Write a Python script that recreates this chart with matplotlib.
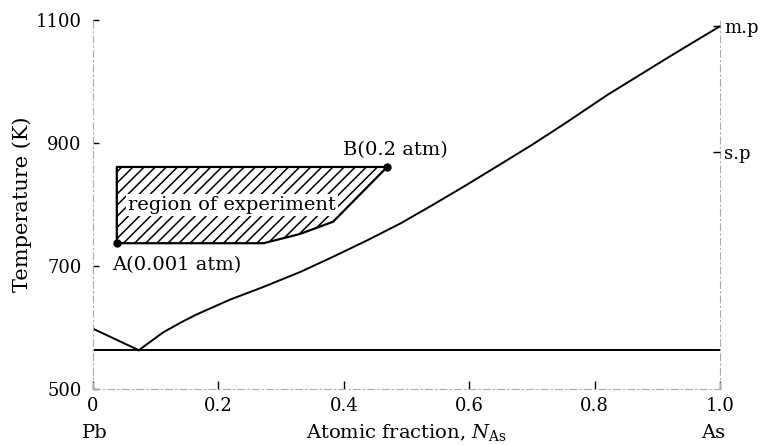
import matplotlib
matplotlib.use("Agg")
import matplotlib.pyplot as plt

# Pb-As phase diagram data
pb_liq_x = [0.0, 0.073]
pb_liq_T = [598, 563]
as_liq_x = [0.073, 0.112, 0.14, 0.165, 0.218, 0.272, 0.33, 0.383, 0.436,
            0.49, 0.543, 0.596, 0.649, 0.70, 0.75, 0.82, 0.925, 1.0]
as_liq_T = [563, 592, 608, 621, 645, 666, 690, 715, 741,
            769, 800, 832, 865, 897, 930, 978, 1044, 1090]
eutectic_x = [0.0, 1.0]
eutectic_T = [563, 563]

# experimental region
region_x = [0.038, 0.038, 0.469, 0.383, 0.33, 0.272, 0.038]
region_T = [737, 861, 861, 772, 752, 737, 737]
point_A = (0.038, 737)
point_B = (0.469, 861)

x_ticks = [0, 0.2, 0.4, 0.6, 0.8, 1.0]
x_tick_labels = ['0', '0.2', '0.4', '0.6', '0.8', '1.0']
y_ticks = [500, 700, 900, 1100]
right_ticks = [1090, 886]
right_labels = ['m.p', 's.p']

plt.rcParams['font.family'] = 'DejaVu Serif'
plt.rcParams['mathtext.fontset'] = 'dejavuserif'
plt.rcParams['hatch.linewidth'] = 1.1

fig = plt.figure(figsize=(7.62, 4.45), dpi=100)
ax = fig.add_axes([0.122, 0.126, 0.823, 0.829])
ax.set_xlim(0, 1.0)
ax.set_ylim(500, 1100)

# curves
ax.plot(pb_liq_x, pb_liq_T, color='black', lw=1.4)
ax.plot(as_liq_x, as_liq_T, color='black', lw=1.4)
ax.plot(eutectic_x, eutectic_T, color='black', lw=1.4)

# hatched region
ax.fill(region_x, region_T, facecolor='white', edgecolor='black',
        hatch='///', lw=0)
ax.plot(region_x, region_T, color='black', lw=1.6)
ax.plot(*point_A, 'o', color='black', ms=5)
ax.plot(*point_B, 'o', color='black', ms=5)
ax.text(0.222, 799, 'region of experiment', fontsize=14, ha='center',
        va='center', bbox=dict(facecolor='white', edgecolor='none', pad=1.5))
ax.text(0.399, 888, 'B(0.2 atm)', fontsize=14, ha='left', va='center')
ax.text(0.030, 702, 'A(0.001 atm)', fontsize=14, ha='left', va='center')

# axes styling (faint scanned frame)
for side in ['left', 'right', 'bottom']:
    ax.spines[side].set_color('#aaaaaa')
    ax.spines[side].set_linewidth(0.8)
    ax.spines[side].set_linestyle((0, (6, 3, 1, 3)))
ax.spines['top'].set_visible(False)

ax.set_xticks(x_ticks)
ax.set_xticklabels(x_tick_labels)
ax.set_yticks(y_ticks)
ax.tick_params(axis='x', direction='in', length=6, width=1, pad=6,
               labelsize=13, color='black')
ax.tick_params(axis='y', direction='in', length=4, width=1, pad=8,
               labelsize=13, color='black')

ax.set_xlabel('Atomic fraction, $N_{\\mathrm{As}}$', fontsize=14, va='center')
ax.xaxis.set_label_coords(0.5, -0.119)
ax.set_ylabel('Temperature (K)', fontsize=15, va='center')
ax.yaxis.set_label_coords(-0.113, 0.5)

ax.text(0.003, -0.119, 'Pb', fontsize=14, ha='center', va='center',
        transform=ax.get_xaxis_transform())
ax.text(0.989, -0.119, 'As', fontsize=14, ha='center', va='center',
        transform=ax.get_xaxis_transform())

# right-hand marks for arsenic melting / sublimation point
ax2 = ax.twinx()
ax2.set_ylim(500, 1100)
ax2.set_yticks(right_ticks)
ax2.set_yticklabels(right_labels)
ax2.tick_params(axis='y', direction='in', length=5, width=1, pad=3,
                labelsize=13, color='black')
for side in ['left', 'right', 'bottom', 'top']:
    ax2.spines[side].set_visible(False)

fig.savefig('out.png', dpi=100)
